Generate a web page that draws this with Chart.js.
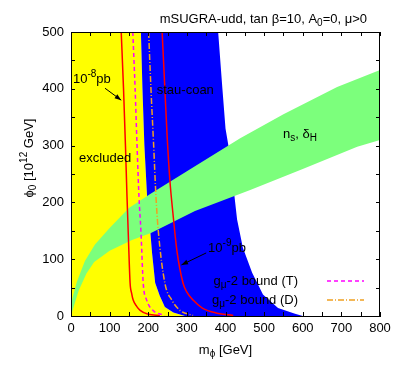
<!DOCTYPE html>
<html>
<head>
<meta charset="utf-8">
<script src="https://cdn.jsdelivr.net/npm/chart.js@4.4.1/dist/chart.umd.min.js"></script>
<style>
html, body { margin: 0; padding: 0; background: #fff; }
</style>
</head>
<body>
<canvas id="myChart" width="399" height="371"></canvas>
<script>
// axis ticks
const xTicks = [0, 100, 200, 300, 400, 500, 600, 700, 800];
const yTicks = [0, 100, 200, 300, 400, 500];

// edge of excluded (yellow) region, top to bottom
const excludedEdgeX = [181, 185, 190, 197, 205, 210, 218, 230, 243, 265, 295];
const excludedEdgeY = [500, 400, 300, 210, 151, 110, 58, 35, 16, 6, 0];

// right edge of stau-coannihilation (blue) region, bottom to top
const coanEdgeX = [600, 580, 536, 497, 469, 445, 430, 420, 410, 400, 392, 381];
const coanEdgeY = [0, 4, 14, 38, 76, 120, 170, 230, 290, 330, 400, 500];

// n_s, delta_H band (green)
const bandUpperX = [0, 3, 15, 36, 62, 100, 150, 205, 300, 438, 550, 689, 800];
const bandUpperY = [0, 30, 60, 97, 126, 155, 190, 215, 255, 313, 355, 403, 433];
const bandLowerX = [0, 4, 20, 40, 60, 100, 158, 207, 321, 464, 600, 741, 800];
const bandLowerY = [0, 10, 45, 75, 95, 115, 134, 146, 185, 222, 259, 298, 310];

// cross section contours
const sigma8X = [130, 136, 141, 145, 149, 153, 157, 161, 170, 179, 200, 230];
const sigma8Y = [500, 400, 300, 210, 130, 58, 40, 28, 17, 10, 3, 1];
const sigma9X = [236, 243, 249, 256, 264, 274, 290, 300, 316, 340, 378, 420];
const sigma9Y = [500, 400, 315, 239, 180, 116, 58, 42, 28, 14, 5, 1];

// g_mu - 2 bounds
const gm2TX = [160, 166, 171, 176, 181, 187, 196, 212, 243];
const gm2TY = [500, 400, 300, 210, 150, 58, 28, 10, 1];
const gm2DX = [201, 207, 214, 220, 226, 243, 261, 282, 316];
const gm2DY = [500, 400, 300, 210, 150, 58, 28, 10, 1];

const xMin = 0, xMax = 800, yMin = 0, yMax = 500;

function pts(xs, ys) {
    return xs.map((x, i) => ({ x: x, y: ys[i] }));
}

const yellowPts = [{ x: xMin, y: yMax }].concat(pts(excludedEdgeX, excludedEdgeY), [{ x: xMin, y: yMin }]);
const bluePts = pts(excludedEdgeX, excludedEdgeY).concat(pts(coanEdgeX, coanEdgeY));
const greenPts = pts(bandUpperX, bandUpperY).concat(pts(bandLowerX, bandLowerY).reverse());

const FONT = '"Liberation Sans", Arial, sans-serif';

function region(data, color, order) {
    return {
        data: data, fill: 'shape', backgroundColor: color, borderWidth: 0,
        pointRadius: 0, tension: 0, order: order
    };
}

function curve(data, color, dash, order) {
    return {
        data: data, fill: false, borderColor: color, borderWidth: 1.5, borderDash: dash,
        pointRadius: 0, cubicInterpolationMode: 'monotone', order: order
    };
}

// draw text with sub/superscripts: parts = [[text, 'n'|'sub'|'sup'], ...]
function richText(ctx, parts, x, y, align) {
    const fontOf = p => (p[1] === 'n' ? '13px ' : '10px ') + FONT;
    const widths = parts.map(p => { ctx.font = fontOf(p); return ctx.measureText(p[0]).width; });
    const total = widths.reduce((a, b) => a + b, 0);
    let cx = align === 'right' ? x - total : align === 'center' ? x - total / 2 : x;
    parts.forEach((p, i) => {
        ctx.font = fontOf(p);
        const dy = p[1] === 'sub' ? 3 : p[1] === 'sup' ? -6 : 0;
        ctx.fillText(p[0], cx, y + dy);
        cx += widths[i];
    });
}

function arrow(ctx, x1, y1, x2, y2) {
    ctx.beginPath();
    ctx.moveTo(x1, y1);
    ctx.lineTo(x2, y2);
    ctx.stroke();
    const a = Math.atan2(y2 - y1, x2 - x1);
    ctx.beginPath();
    ctx.moveTo(x2, y2);
    ctx.lineTo(x2 - 7 * Math.cos(a - 0.35), y2 - 7 * Math.sin(a - 0.35));
    ctx.lineTo(x2 - 7 * Math.cos(a + 0.35), y2 - 7 * Math.sin(a + 0.35));
    ctx.closePath();
    ctx.fill();
}

const overlay = {
    id: 'overlay',
    afterDatasetsDraw(chart) {
        const { ctx, chartArea: a, scales: { x, y } } = chart;
        ctx.save();
        ctx.strokeStyle = '#000';
        ctx.fillStyle = '#000';
        ctx.lineWidth = 1;

        // inward ticks on all four sides
        ctx.beginPath();
        const xt = [];
        xTicks.forEach((v, i) => { xt.push(v); if (i < xTicks.length - 1) xt.push((v + xTicks[i + 1]) / 2); });
        xt.forEach(v => {
            const px = Math.round(x.getPixelForValue(v)) + 0.5;
            ctx.moveTo(px, a.bottom); ctx.lineTo(px, a.bottom - 4);
            ctx.moveTo(px, a.top); ctx.lineTo(px, a.top + 4);
        });
        const yt = [];
        yTicks.forEach((v, i) => { yt.push(v); if (i < yTicks.length - 1) yt.push((v + yTicks[i + 1]) / 2); });
        yt.forEach(v => {
            const py = Math.round(y.getPixelForValue(v)) + 0.5;
            ctx.moveTo(a.left, py); ctx.lineTo(a.left + 4, py);
            ctx.moveTo(a.right, py); ctx.lineTo(a.right - 4, py);
        });
        ctx.stroke();
        ctx.strokeRect(Math.round(a.left) + 0.5, Math.round(a.top) + 0.5,
            Math.round(a.right - a.left) - 1, Math.round(a.bottom - a.top));

        ctx.textBaseline = 'alphabetic';
        const X = v => x.getPixelForValue(v);
        const Y = v => y.getPixelForValue(v);

        // annotations
        richText(ctx, [['10', 'n'], ['-8', 'sup'], ['pb', 'n']], X(5), Y(410), 'left');
        arrow(ctx, X(88), Y(401), X(130), Y(380));
        richText(ctx, [['stau-coan', 'n']], X(222), Y(391), 'left');
        richText(ctx, [['excluded', 'n']], X(21), Y(271), 'left');
        richText(ctx, [['10', 'n'], ['-9', 'sup'], ['pb', 'n']], X(355), Y(113), 'left');
        arrow(ctx, X(350), Y(111), X(286), Y(90));
        richText(ctx, [['n', 'n'], ['s', 'sub'], [', \u03b4', 'n'], ['H', 'sub']], X(549), Y(314), 'left');

        // legend
        richText(ctx, [['g', 'n'], ['\u03bc', 'sub'], ['-2 bound (T)', 'n']], a.right - 82, a.bottom - 31, 'right');
        richText(ctx, [['g', 'n'], ['\u03bc', 'sub'], ['-2 bound (D)', 'n']], a.right - 82, a.bottom - 12, 'right');
        ctx.lineWidth = 1.5;
        ctx.strokeStyle = '#ff00ff';
        ctx.setLineDash([4, 3]);
        ctx.beginPath(); ctx.moveTo(a.right - 53, a.bottom - 35); ctx.lineTo(a.right - 16, a.bottom - 35); ctx.stroke();
        ctx.strokeStyle = '#f0a020';
        ctx.setLineDash([6, 2, 1, 2]);
        ctx.beginPath(); ctx.moveTo(a.right - 53, a.bottom - 16); ctx.lineTo(a.right - 16, a.bottom - 16); ctx.stroke();
        ctx.setLineDash([]);

        // title and axis titles
        richText(ctx, [['mSUGRA-udd, tan \u03b2=10, A', 'n'], ['0', 'sub'], ['=0, \u03bc>0', 'n']], a.right - 13, 23, 'right');
        richText(ctx, [['m', 'n'], ['\u03d5', 'sub'], [' [GeV]', 'n']], (a.left + a.right) / 2, 354, 'center');
        ctx.translate(28, 158);
        ctx.rotate(-Math.PI / 2);
        richText(ctx, [['\u03d5', 'n'], ['0', 'sub'], [' [10', 'n'], ['12', 'sup'], [' GeV]', 'n']], 0, 5, 'center');
        ctx.restore();
    }
};

const ctx = document.getElementById('myChart').getContext('2d');
new Chart(ctx, {
    type: 'line',
    data: {
        datasets: [
            region(yellowPts, '#ffff00', 10),
            region(bluePts, '#0000ff', 9),
            region(greenPts, '#7cff7c', 8),
            curve(pts(sigma8X, sigma8Y), '#ff0000', [], 4),
            curve(pts(gm2TX, gm2TY), '#ff00ff', [4, 3], 3),
            curve(pts(gm2DX, gm2DY), '#f0a020', [6, 2, 1, 2], 2),
            curve(pts(sigma9X, sigma9Y), '#ff0000', [], 1)
        ]
    },
    options: {
        responsive: false,
        animation: false,
        layout: { padding: { top: 32, right: 19, left: 0, bottom: 0 } },
        plugins: { legend: { display: false }, tooltip: { enabled: false } },
        scales: {
            x: {
                type: 'linear', min: xMin, max: xMax,
                afterBuildTicks: s => { s.ticks = xTicks.map(v => ({ value: v })); },
                afterFit: s => { s.height = 55; },
                ticks: { color: '#000', font: { family: FONT, size: 13 }, padding: 5, maxRotation: 0 },
                grid: { display: false, drawTicks: false },
                border: { display: true, color: '#000', width: 1 }
            },
            y: {
                type: 'linear', min: yMin, max: yMax,
                afterBuildTicks: s => { s.ticks = yTicks.map(v => ({ value: v })); },
                afterFit: s => { s.width = 71; },
                ticks: { color: '#000', font: { family: FONT, size: 13 }, padding: 7 },
                grid: { display: false, drawTicks: false },
                border: { display: true, color: '#000', width: 1 }
            }
        }
    },
    plugins: [overlay]
});
</script>
</body>
</html>
